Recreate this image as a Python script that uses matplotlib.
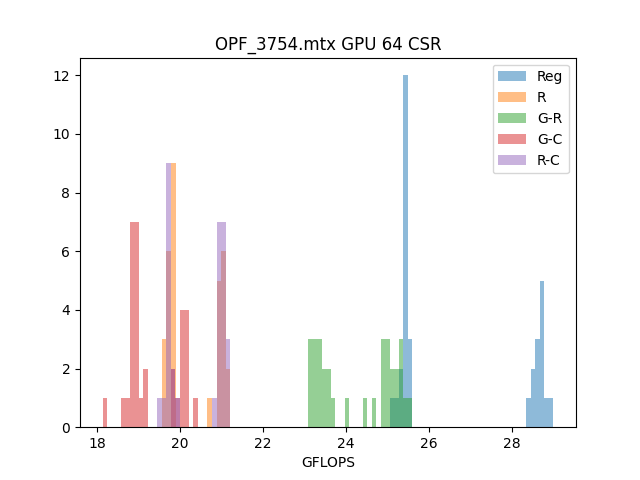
import numpy as np
import matplotlib
matplotlib.use('Agg')
import matplotlib.pyplot as plt

# GFLOPS samples (value, how many runs)
reg_vals = [25.05, 25.21, 25.32, 25.43, 25.54, 28.40, 28.51, 28.61, 28.72, 28.83, 29.00]
reg_cnt  = [1, 1, 2, 12, 3, 1, 2, 3, 5, 1, 1]

r_vals = [19.56, 19.72, 19.83, 20.71, 20.93, 21.04, 21.15, 21.21]
r_cnt  = [3, 6, 9, 1, 5, 6, 1, 1]

gr_vals = [23.09, 23.14, 23.25, 23.36, 23.47, 23.58, 23.68, 24.02, 24.45, 24.67,
           24.89, 24.99, 25.10, 25.21, 25.32, 25.43, 25.60]
gr_cnt  = [1, 2, 3, 3, 2, 2, 1, 1, 1, 1, 3, 3, 2, 2, 3, 1, 1]

gc_vals = [18.13, 18.62, 18.72, 18.83, 18.94, 19.05, 19.16, 19.82, 19.93, 20.04, 20.15, 20.43]
gc_cnt  = [1, 1, 1, 7, 7, 1, 2, 2, 1, 4, 4, 1]

rc_vals = [19.44, 19.60, 19.71, 19.82, 19.93, 20.82, 20.93, 21.04, 21.15, 21.21]
rc_cnt  = [1, 1, 9, 2, 1, 1, 7, 7, 2, 1]

labels = ['Reg', 'R', 'G-R', 'G-C', 'R-C']
nbins = [36, 15, 23, 21, 16]

series = [np.repeat(reg_vals, reg_cnt),
          np.repeat(r_vals, r_cnt),
          np.repeat(gr_vals, gr_cnt),
          np.repeat(gc_vals, gc_cnt),
          np.repeat(rc_vals, rc_cnt)]

plt.figure(figsize=(6.4, 4.8), dpi=100)
for s, lab, nb in zip(series, labels, nbins):
    plt.hist(s, bins=nb, alpha=0.5, label=lab)

plt.title('OPF_3754.mtx GPU 64 CSR')
plt.xlabel('GFLOPS')
plt.legend()
plt.savefig('out.png')
